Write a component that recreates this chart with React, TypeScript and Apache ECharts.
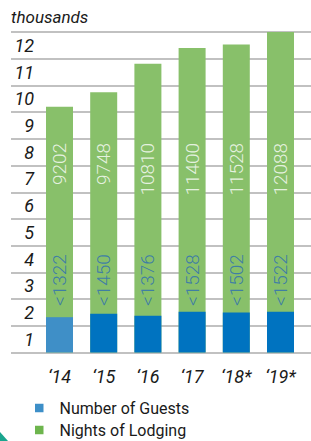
import React, { useEffect, useRef } from 'react';
import * as echarts from 'echarts';

const years = ['‘14', '‘15', '‘16', '‘17', '‘18*', '‘19*'];
const guests = [1322, 1450, 1376, 1528, 1502, 1522];
const nights = [9202, 9748, 10810, 11400, 11528, 12088];
const yTickLabels = ['1', '2', '3', '4', '5', '6', '7', '8', '9', '10', '11', '12'];
const yMax = 12000;
const unitName = 'thousands';
const guestsName = 'Number of Guests';
const nightsName = 'Nights of Lodging';

const GREEN = '#88c06a';
const BLUE = '#0073c0';
const BLUE_LIGHT = '#3f8fc7';
const LABEL_FONT = '"Liberation Sans Narrow", "Roboto", sans-serif';
const TEXT = '#1a1a1a';

export default function App() {
  const ref = useRef<HTMLDivElement>(null);
  useEffect(() => {
    if (!ref.current) return;
    const chart = echarts.init(ref.current, undefined, { renderer: 'svg' });
    const top = 32;
    const height = 320.5;
    chart.setOption({
      animation: false,
      backgroundColor: '#ffffff',
      grid: [
        { left: 11, right: 0, top, height },
        { left: 37.4, width: 265.2, top, height },
      ],
      xAxis: [
        { gridIndex: 0, type: 'value', show: false, min: 0, max: 1 },
        {
          gridIndex: 1,
          type: 'category',
          data: years,
          axisLine: { show: false },
          axisTick: { show: false },
          axisLabel: {
            margin: 15,
            fontFamily: LABEL_FONT,
            fontStyle: 'italic',
            fontSize: 18,
            color: TEXT,
          },
        },
      ],
      yAxis: [
        {
          gridIndex: 0,
          type: 'category',
          data: yTickLabels,
          boundaryGap: true,
          name: unitName,
          nameLocation: 'end',
          nameGap: 7,
          nameTextStyle: {
            align: 'left',
            verticalAlign: 'bottom',
            fontFamily: 'Roboto, sans-serif',
            fontStyle: 'italic',
            fontSize: 17,
            color: TEXT,
          },
          axisLine: { show: false },
          axisTick: { show: false },
          splitLine: { show: true, interval: 0, lineStyle: { color: '#adadad', width: 1.5 } },
          axisLabel: {
            margin: -23,
            align: 'right',
            fontFamily: LABEL_FONT,
            fontStyle: 'italic',
            fontSize: 18,
            color: TEXT,
          },
        },
        { gridIndex: 1, type: 'value', show: false, min: 0, max: yMax },
      ],
      legend: {
        orient: 'vertical',
        left: 35,
        top: 400,
        padding: 0,
        itemWidth: 8.5,
        itemHeight: 8.5,
        itemGap: 6,
        icon: 'rect',
        data: [
          { name: guestsName, itemStyle: { color: '#3d8fc8' } },
          { name: nightsName, itemStyle: { color: '#6db54d' } },
        ],
        textStyle: {
          fontFamily: 'Roboto, sans-serif',
          fontSize: 16,
          lineHeight: 16,
          color: TEXT,
          padding: [0, 0, 0, 11],
        },
      },
      series: [
        {
          name: nightsName,
          type: 'bar',
          xAxisIndex: 1,
          yAxisIndex: 1,
          data: nights,
          barWidth: 27,
          barGap: '-100%',
          itemStyle: { color: GREEN },
        },
        {
          name: guestsName,
          type: 'bar',
          xAxisIndex: 1,
          yAxisIndex: 1,
          data: guests.map((v, i) => ({
            value: v,
            itemStyle: { color: i === 0 ? BLUE_LIGHT : BLUE },
          })),
          barWidth: 27,
          barGap: '-100%',
        },
        {
          name: 'nightsLabels',
          type: 'scatter',
          xAxisIndex: 1,
          yAxisIndex: 1,
          symbolSize: 0,
          silent: true,
          data: nights.map((v, i) => [i, 7850, v]),
          label: {
            show: true,
            position: 'inside',
            rotate: 90,
            align: 'right',
            verticalAlign: 'middle',
            formatter: (p: any) => String(p.value[2]),
            fontFamily: 'Roboto, sans-serif',
            fontWeight: 300,
            fontSize: 19,
            color: '#ffffff',
          },
        },
        {
          name: 'guestsLabels',
          type: 'scatter',
          xAxisIndex: 1,
          yAxisIndex: 1,
          symbolSize: 0,
          silent: true,
          data: guests.map((v, i) => [i, 1740, v]),
          label: {
            show: true,
            position: 'inside',
            rotate: 90,
            align: 'left',
            verticalAlign: 'middle',
            formatter: (p: any) => '<' + String(p.value[2]),
            fontFamily: 'Roboto, sans-serif',
            fontWeight: 300,
            fontSize: 19,
            color: '#2b6cb5',
          },
        },
      ],
      graphic: [
        {
          type: 'polygon',
          shape: { points: [[0, 432], [8, 441], [0, 441]] },
          style: { fill: '#1aa58e' },
        },
      ],
    });
    return () => chart.dispose();
  }, []);
  return (
    <div
      ref={ref}
      style={{ position: 'fixed', left: 0, top: 0, width: 311, height: 441 }}
    />
  );
}
